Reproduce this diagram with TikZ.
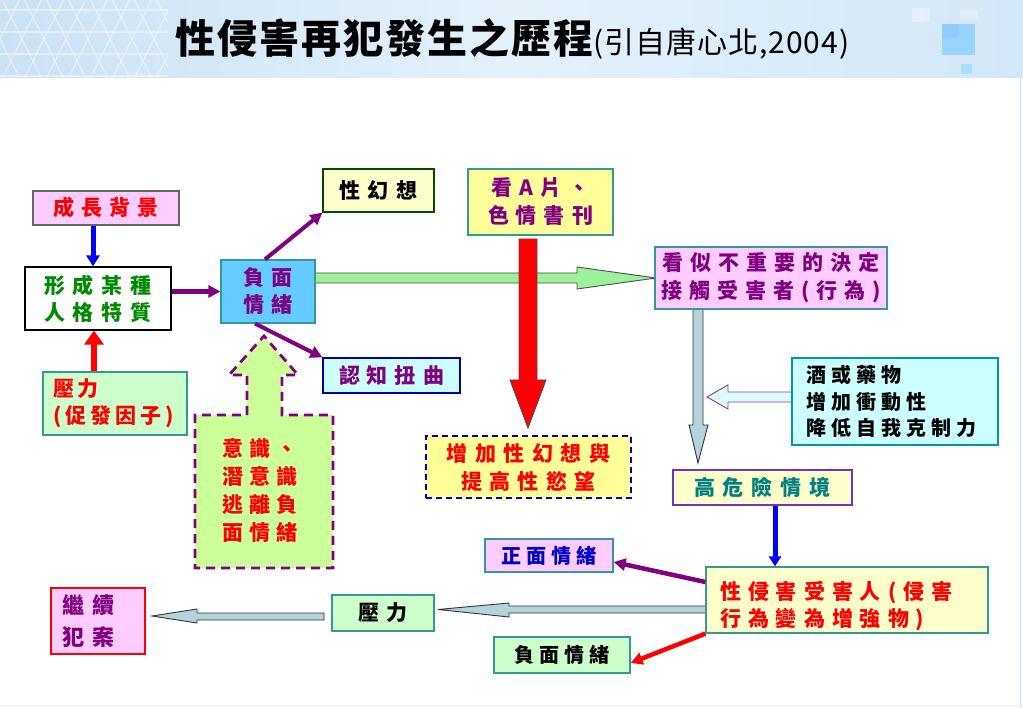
\documentclass[tikz,border=0pt]{standalone}
\usepackage{fontspec}
\newfontfamily\cjk{Noto Sans CJK TC}
\usetikzlibrary{arrows.meta}
\definecolor{pinkf}{HTML}{FFCCFF}
\definecolor{greenf}{HTML}{CCFFCC}
\definecolor{yellowf}{HTML}{FFFFCC}
\definecolor{yellow2}{HTML}{FFFF99}
\definecolor{cyanf}{HTML}{CCFFFF}
\definecolor{bluef}{HTML}{66CCFF}
\definecolor{tealb}{HTML}{339999}
\definecolor{tealb2}{HTML}{009999}
\definecolor{purp}{HTML}{800080}
\definecolor{grnt}{HTML}{008A00}
\definecolor{tealt}{HTML}{008080}
\definecolor{bluet}{HTML}{0000CC}
\definecolor{grayf}{HTML}{B4D3DB}
\definecolor{greenar}{HTML}{9CF29C}
\definecolor{escf}{HTML}{CCFF99}
\definecolor{hdrA}{HTML}{CBE2F5}
\definecolor{hdrB}{HTML}{E4F1FB}
\definecolor{hdrC}{HTML}{D2E7F8}
\makeatletter
\newdimen\cjkgap
\def\cjksp#1#2{\cjkgap=#1\relax\cjksp@a#2\relax}
\def\cjksp@a#1{#1\cjksp@b}
\def\cjksp@b#1{\ifx#1\relax\else\kern\cjkgap#1\expandafter\cjksp@b\fi}
\makeatother
\tikzset{
  box/.style={draw=tealb, line width=1.2pt, inner sep=0pt, align=center,
    font=\cjk\bfseries\fontsize{21}{27}\selectfont},
  smallbox/.style={box, font=\cjk\bfseries\fontsize{20}{26}\selectfont},
  parr/.style={draw=purp, line width=4.5pt, -{Triangle[width=12pt,length=12pt]}},
  blockgray/.style={fill=grayf, draw=black!80, line width=0.9pt},
  hexline/.style={white, opacity=0.45, line width=1.2pt}
}
\begin{document}
\begin{tikzpicture}[x=1pt,y=-1pt]
\useasboundingbox (0,0) rectangle (1023,708);
% header
\shade[left color=hdrA, right color=hdrC, middle color=hdrB] (0,0) rectangle (1023,78);
\begin{scope}
\clip (0,0) rectangle (168,78);
\foreach \i in {-6,...,14} {
  \draw[hexline] (\i*22,-5) -- ++(45,90);
  \draw[hexline] (\i*22,-5) -- ++(-45,90);
}
\foreach \j in {10,32,54,76} { \draw[hexline] (0,\j) -- (168,\j); }
\end{scope}
\fill[white, opacity=0.35] (912,8) rectangle (930,22);
\fill[white, opacity=0.3] (960,10) rectangle (978,20);
\fill[blue!40!cyan!50!white, opacity=0.7] (942,24) rectangle (975,55);
\fill[blue!45!cyan!45!white, opacity=0.8] (942,24) rectangle (958,38);
\fill[blue!30!cyan!40!white, opacity=0.8] (961,64) rectangle (972,74);
\draw[hdrA, line width=1pt] (1020,78) -- (1020,708);
\draw[hdrB, line width=1pt] (0,705) -- (1020,705);
% title
\node[anchor=base west, inner sep=0pt, font=\cjk] (title) at (175,54)
  {{\bfseries\fontsize{40}{40}\selectfont\cjksp{2pt}{性侵害再犯發生之歷程}}{\fontsize{30}{30}\selectfont\cjksp{1pt}{(引自唐心北,2004)}}};
% big block arrows
\filldraw[fill=greenar, draw=black!70, line width=0.9pt]
  (315,273) -- (577,273) -- (577,267) -- (656,278) -- (577,289) -- (577,283) -- (315,283) -- cycle;
\filldraw[fill=red, draw=black!70, line width=0.9pt]
  (519,239) -- (537,239) -- (537,380) -- (546,380) -- (528,428) -- (510,380) -- (519,380) -- cycle;
\filldraw[blockgray]
  (693,309) -- (703,309) -- (703,425) -- (708,425) -- (698,463) -- (689,425) -- (693,425) -- cycle;
\filldraw[fill=cyanf!70!white, draw=purp!80, line width=0.9pt]
  (792,392) -- (728,392) -- (728,385) -- (707,397) -- (728,409) -- (728,402) -- (792,402) -- cycle;
\filldraw[blockgray]
  (706,606) -- (509,606) -- (509,603) -- (438,609.5) -- (509,617) -- (509,613) -- (706,613) -- cycle;
\filldraw[blockgray]
  (324,613) -- (197,613) -- (197,609) -- (152,616) -- (197,623) -- (197,620) -- (324,620) -- cycle;
% escape arrow shape
\filldraw[fill=escf, draw=purp, line width=2.8pt, dash pattern=on 9pt off 6pt]
  (247,415) -- (247,375) -- (229,375) -- (264,336) -- (298,375) -- (282,375) -- (282,415)
  -- (333,415) -- (333,568) -- (195,568) -- (195,415) -- cycle;
\node[box, draw=none, text=red, align=left, font=\cjk\bfseries\fontsize{21}{28}\selectfont] (esc) at (260,490)
  {\cjksp{6pt}{意識、}\\\cjksp{6pt}{潛意識}\\\cjksp{6pt}{逃離負}\\\cjksp{6pt}{面情緒}};
% nodes
\node[box, draw=black!60, fill=pinkf, text=red, minimum width=146pt, minimum height=34pt] (bg) at (106,208)
  {\cjksp{7pt}{成長背景}};
\node[box, draw=black, fill=white, text=grnt, minimum width=146pt, minimum height=63pt] (pers) at (98,298.5)
  {\cjksp{8pt}{形成某種}\\\cjksp{8pt}{人格特質}};
\node[box, fill=greenf, text=red, minimum height=63pt, text width=124pt, inner xsep=10pt, align=left] (str1) at (115,403.5)
  {\cjksp{4pt}{壓力}\\\cjksp{4pt}{(促發因子)}};
\node[box, fill=bluef, text=purp, minimum width=94pt, minimum height=63pt] (neg) at (268,291.5)
  {\cjksp{8pt}{負面}\\\cjksp{8pt}{情緒}};
\node[box, draw=green!30!black, fill=yellowf, text=black, minimum width=111pt, minimum height=43pt] (fant) at (378.5,190.5)
  {\cjksp{8pt}{性幻想}};
\node[box, draw=blue!70!black, fill=cyanf, text=purp, minimum width=137pt, minimum height=35pt] (cog) at (391.5,375.5)
  {\cjksp{7pt}{認知扭曲}};
\node[box, fill=yellow2, text=purp, minimum width=145pt, minimum height=66pt, font=\cjk\bfseries\fontsize{21}{28}\selectfont] (porn) at (540.5,202)
  {\cjksp{7pt}{看A片、}\\\cjksp{7pt}{色情書刊}};
\node[box, draw=blue!75!black, dashed, dash pattern=on 6pt off 4pt, fill=yellow2, text=red, minimum width=205pt, minimum height=62pt, font=\cjk\bfseries\fontsize{21}{28}\selectfont] (incr) at (528.5,467)
  {\cjksp{7.5pt}{增加性幻想與}\\\cjksp{7.5pt}{提高性慾望}};
\node[box, fill=pinkf, text=purp, minimum width=232pt, minimum height=62pt, font=\cjk\bfseries\fontsize{21}{28}\selectfont] (dec) at (771,278)
  {\cjksp{7pt}{看似不重要的決定}\\\cjksp{7pt}{接觸受害者(行為)}};
\node[box, draw=tealb2, line width=2.8pt, fill=cyanf, text=black, minimum height=87pt, text width=178pt, inner xsep=14pt, align=left, font=\cjk\bfseries\fontsize{20}{26.5}\selectfont] (alc) at (895,401.5)
  {\cjksp{5pt}{酒或藥物}\\\cjksp{5pt}{增加衝動性}\\\cjksp{5pt}{降低自我克制力}};
\node[box, draw=blue!60!purple!80, fill=yellowf, text=tealt, minimum width=179pt, minimum height=35pt] (risk) at (762.5,487.5)
  {\cjksp{8pt}{高危險情境}};
\node[box, fill=yellowf, text=red, minimum height=66pt, text width=254pt, inner xsep=14pt, align=left, font=\cjk\bfseries\fontsize{21}{27}\selectfont] (vict) at (847,600)
  {\rule{0pt}{30pt}\cjksp{7pt}{性侵害受害人(侵害}\\\cjksp{7pt}{行為變為增強物)}};
\node[smallbox, fill=pinkf, text=bluet, minimum width=128pt, minimum height=33pt] (pos) at (549,555.5)
  {\cjksp{5pt}{正面情緒}};
\node[box, fill=greenf, text=black, minimum width=102pt, minimum height=36pt] (str2) at (383,613)
  {\cjksp{8pt}{壓力}};
\node[box, draw=red, fill=pinkf, text=purp, minimum height=66pt, text width=72pt, inner xsep=11pt, align=left, font=\cjk\bfseries\fontsize{22}{32}\selectfont] (cont) at (98,621)
  {\cjksp{9pt}{繼續}\\\cjksp{9pt}{犯案}};
\node[smallbox, fill=greenf, text=black, minimum width=136pt, minimum height=36pt] (neg2) at (562,655)
  {\cjksp{5pt}{負面情緒}};
% thin connectors
\draw[draw=blue, line width=5pt, -{Triangle[width=13pt,length=11pt]}] (bg.south -| 93,0) -- (pers.north -| 93,0);
\draw[draw=red, line width=6pt, -{Triangle[width=19pt,length=14pt]}] (str1.north -| 94,0) -- (pers.south -| 94,0);
\draw[parr] (pers.east |- neg.west) -- (neg.west);
\draw[parr, line width=4pt] (neg.north) ++(-3,0) -- (fant.south west);
\draw[parr, line width=4pt] (neg.south) ++(-13,0) -- (cog.north west);
\draw[draw=blue, line width=5pt, -{Triangle[width=12pt,length=10pt]}] (risk.south -| 775,0) -- (vict.north -| 775,0);
\draw[parr] (vict.west |- 0,582) -- (pos.east |- 0,562);
\draw[draw=red, line width=4.5pt, -{Triangle[width=12pt,length=12pt]}] (vict.south west) -- (neg2.east |- 0,663);
\end{tikzpicture}
\end{document}
